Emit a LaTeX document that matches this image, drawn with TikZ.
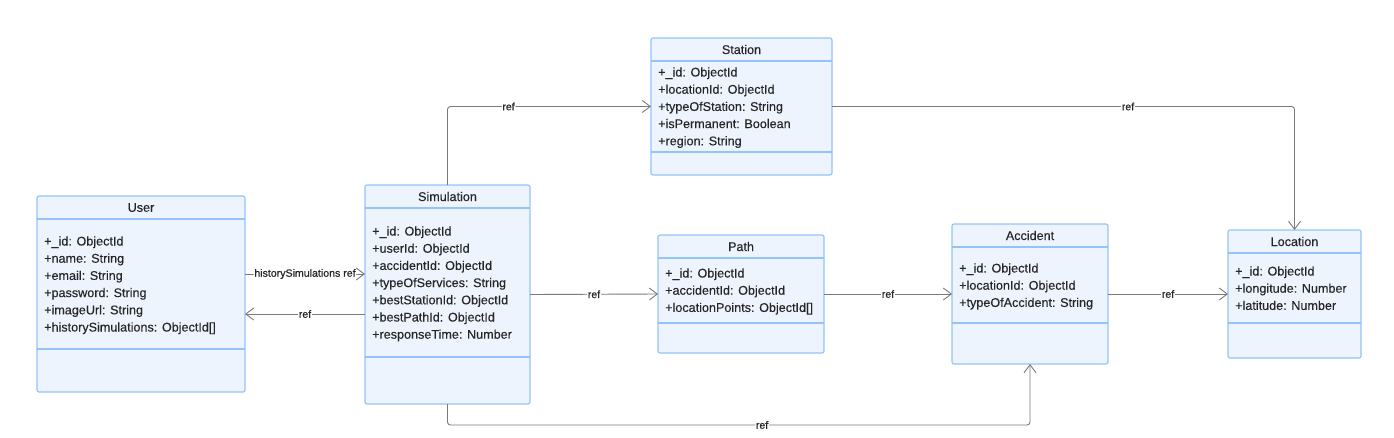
\documentclass[tikz,border=0pt]{standalone}
\usepackage{fontspec}
\setmainfont{Liberation Sans}[FakeBold=0.25]
\newfontfamily\labelfont{Liberation Sans}[FakeBold=0.6]
\usetikzlibrary{arrows.meta}

\definecolor{boxfill}{HTML}{EDF4FE}
\definecolor{boxdraw}{HTML}{93C3F8}
\definecolor{reflinecol}{HTML}{7A7A7A}
\definecolor{textcol}{HTML}{262626}

\tikzset{
  classbox/.style={draw=boxdraw, fill=boxfill, line width=1.1pt, rounded corners=2pt,
    inner sep=0pt, outer sep=0pt},
  classline/.style={draw=boxdraw, line width=1.1pt},
  classtitle/.style={inner sep=0pt, text=textcol, font=\fontsize{12.6}{15}\selectfont},
  attr/.style={inner sep=0pt, anchor=base west, text=textcol, font=\fontsize{12.6}{15}\selectfont},
  refline/.style={draw=reflinecol, line width=0.9pt, rounded corners=3pt,
    -{Straight Barb[length=8pt,width=12pt,line width=0.9pt]}},
  reflabel/.style={fill=white, inner sep=0.6pt, text=textcol, font=\labelfont\fontsize{10.6}{12}\selectfont}
}

% name, left, top, width, height, title, first line, divider, attributes
\newcommand{\classbox}[9]{%
  \node[classbox, minimum width=#4, minimum height=#5, anchor=north west] (#1) at (#2,#3) {};
  \node[classtitle] (#1-title) at ([yshift=-11.5]#1.north) {#6};
  \draw[classline] ([yshift=-23]#1.north west) -- ([yshift=-23]#1.north east);
  \draw[classline] ([yshift=-#8]#1.north west) -- ([yshift=-#8]#1.north east);
  \foreach \a [count=\i] in {#9}
    \node[attr] (#1-a\i) at ([xshift=7, yshift={-#7-4.5-17.2*(\i-1)}]#1.north west) {\a};
}

\begin{document}
\begin{tikzpicture}[x=1pt,y=-1pt]
  \useasboundingbox (0,0) rectangle (1394,437);

  % classes
  \classbox{user}{37}{196}{208}{196}{User}{45}{153}%
    {+\_id: ObjectId, +name: String, +email: String, +password: String,
     +imageUrl: String, {+historySimulations: ObjectId[]}}
  \classbox{sim}{365}{185}{165}{219}{Simulation}{46}{172}%
    {+\_id: ObjectId, +userId: ObjectId, +accidentId: ObjectId, +typeOfServices: String,
     +bestStationId: ObjectId, +bestPathId: ObjectId, +responseTime: Number}
  \classbox{station}{651}{38}{181}{137}{Station}{34}{114}%
    {+\_id: ObjectId, +locationId: ObjectId, +typeOfStation: String,
     +isPermanent: Boolean, +region: String}
  \classbox{path}{658}{235}{166}{118}{Path}{38}{88}%
    {+\_id: ObjectId, +accidentId: ObjectId, {+locationPoints: ObjectId[]}}
  \classbox{accident}{952}{224}{156}{140}{Accident}{44}{99}%
    {+\_id: ObjectId, +locationId: ObjectId, +typeOfAccident: String}
  \classbox{location}{1228}{230}{133}{128}{Location}{41}{93}%
    {+\_id: ObjectId, +longitude: Number, +latitude: Number}

  % references
  \draw[refline] (user.east |- 0,274) -- (sim.west |- 0,274)
    node[midway, reflabel] {historySimulations ref};
  \draw[refline] (sim.west |- 0,314) -- (user.east |- 0,314)
    node[midway, reflabel] {ref};
  \draw[refline] (sim.north) |- (station.west)
    node[pos=0.65, reflabel] {ref};
  \draw[refline] (station.east) -| (location.north)
    node[pos=0.32, reflabel] {ref};
  \draw[refline] (sim.east) -- (path.west) node[midway, reflabel] {ref};
  \draw[refline] (path.east) -- (accident.west) node[midway, reflabel] {ref};
  \draw[refline] (accident.east) -- (location.west) node[midway, reflabel] {ref};
  \draw[refline] (sim.south) -- (sim.south |- 0,425) -| (accident.south)
    node[pos=0.27, reflabel] {ref};
\end{tikzpicture}
\end{document}
